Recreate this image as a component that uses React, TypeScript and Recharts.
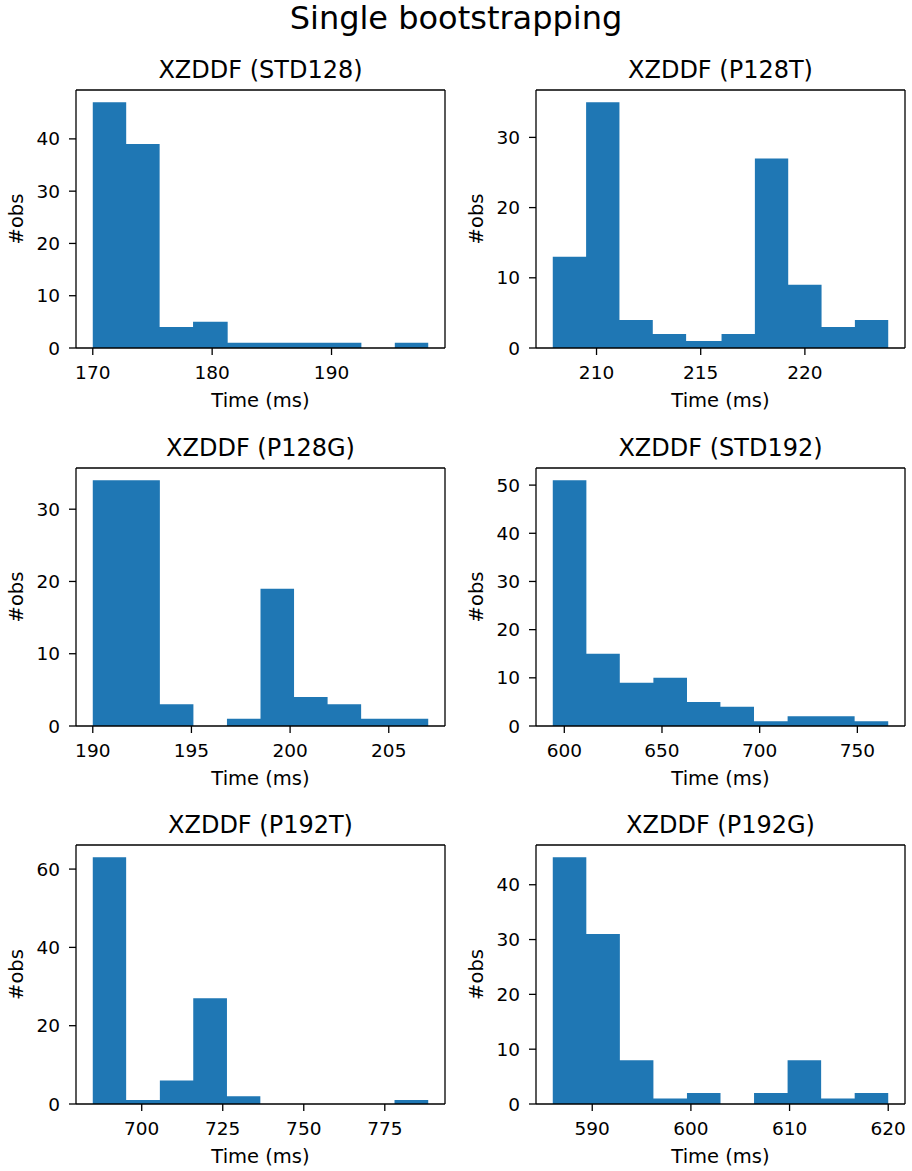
import React from 'react';
import { AreaChart, Area, XAxis, YAxis, CartesianGrid } from 'recharts';

const FONT = '"DejaVu Sans", "Liberation Sans", sans-serif';
const BLUE = '#1f77b4';
const INK = '#000';

const suptitle = 'Single bootstrapping';
const titles = [
  'XZDDF (STD128)',
  'XZDDF (P128T)',
  'XZDDF (P128G)',
  'XZDDF (STD192)',
  'XZDDF (P192T)',
  'XZDDF (P192G)',
];

// bin edges (ms) and counts per bin
const std128Edges = [170.0, 172.8, 175.6, 178.4, 181.3, 184.1, 186.9, 189.7, 192.5, 195.3, 198.1];
const std128Counts = [47, 39, 4, 5, 1, 1, 1, 1, 0, 1];
const std128XTicks = [170, 180, 190];
const std128YTicks = [0, 10, 20, 30, 40];

const p128tEdges = [207.9, 209.5, 211.1, 212.7, 214.3, 216.0, 217.6, 219.2, 220.8, 222.4, 224.0];
const p128tCounts = [13, 35, 4, 2, 1, 2, 27, 9, 3, 4];
const p128tXTicks = [210, 215, 220];
const p128tYTicks = [0, 10, 20, 30];

const p128gEdges = [190.0, 191.7, 193.4, 195.1, 196.8, 198.5, 200.2, 201.9, 203.6, 205.3, 207.0];
const p128gCounts = [34, 34, 3, 0, 1, 19, 4, 3, 1, 1];
const p128gXTicks = [190, 195, 200, 205];
const p128gYTicks = [0, 10, 20, 30];

const std192Edges = [594.1, 611.3, 628.4, 645.6, 662.8, 679.9, 697.1, 714.3, 731.5, 748.6, 765.8];
const std192Counts = [51, 15, 9, 10, 5, 4, 1, 2, 2, 1];
const std192XTicks = [600, 650, 700, 750];
const std192YTicks = [0, 10, 20, 30, 40, 50];

const p192tEdges = [684.9, 695.2, 705.6, 715.9, 726.3, 736.6, 747.0, 757.3, 767.7, 778.0, 788.4];
const p192tCounts = [63, 1, 6, 27, 2, 0, 0, 0, 0, 1];
const p192tXTicks = [700, 725, 750, 775];
const p192tYTicks = [0, 20, 40, 60];

const p192gEdges = [586.0, 589.4, 592.8, 596.2, 599.6, 603.0, 606.4, 609.8, 613.2, 616.6, 620.0];
const p192gCounts = [45, 31, 8, 1, 2, 0, 2, 8, 1, 2];
const p192gXTicks = [590, 600, 610, 620];
const p192gYTicks = [0, 10, 20, 30, 40];

const panels = [
  { edges: std128Edges, counts: std128Counts, xTicks: std128XTicks, yTicks: std128YTicks },
  { edges: p128tEdges, counts: p128tCounts, xTicks: p128tXTicks, yTicks: p128tYTicks },
  { edges: p128gEdges, counts: p128gCounts, xTicks: p128gXTicks, yTicks: p128gYTicks },
  { edges: std192Edges, counts: std192Counts, xTicks: std192XTicks, yTicks: std192YTicks },
  { edges: p192tEdges, counts: p192tCounts, xTicks: p192tXTicks, yTicks: p192tYTicks },
  { edges: p192gEdges, counts: p192gCounts, xTicks: p192gXTicks, yTicks: p192gYTicks },
];

// layout (page pixels)
const PLOT_W = 369;
const colLeft = [0, 456];
const plotLeft = [76, 80];
const boxTop = [90, 468, 845];
const boxH = [258, 258, 259];
const yLabelOffset = [16.4, 19.8];

const line = { stroke: INK, strokeWidth: 1.3 };
const tickFont = { fontSize: 18.5, fill: INK, fontFamily: FONT };

// top and right spines of the axes box
const topSpine = ({ offset }: any) => [offset.top];
const rightSpine = ({ offset }: any) => [offset.left + offset.width];

function Hist({ index }: { index: number }) {
  const p = panels[index];
  const row = Math.floor(index / 2);
  const col = index % 2;
  const lo = p.edges[0];
  const hi = p.edges[p.edges.length - 1];
  const pad = (hi - lo) * 0.05;
  const xDom = [lo - pad, hi + pad];
  const yDom = [0, Math.max(...p.counts) * 1.05];
  // step area: one point per left edge, last edge repeats the last count
  const data = p.edges.map((x, i) => ({ x, n: p.counts[Math.min(i, p.counts.length - 1)] }));

  return (
    <div style={{ position: 'absolute', left: colLeft[col], top: boxTop[row] - 10 }}>
      <AreaChart
        width={456}
        height={10 + boxH[row] + 70}
        data={data}
        margin={{ top: 10, right: 456 - plotLeft[col] - PLOT_W, bottom: 0, left: 0 }}
      >
        <CartesianGrid
          stroke={INK}
          strokeWidth={1.3}
          horizontalCoordinatesGenerator={topSpine}
          verticalCoordinatesGenerator={rightSpine}
        />
        <XAxis
          dataKey="x"
          type="number"
          domain={xDom}
          ticks={p.xTicks}
          interval={0}
          allowDataOverflow
          height={70}
          tickSize={7}
          tickMargin={11}
          tick={tickFont}
          axisLine={line}
          tickLine={line}
          label={{
            value: 'Time (ms)',
            position: 'insideBottom',
            offset: 11.5,
            fontSize: 19.5,
            fill: INK,
            fontFamily: FONT,
          }}
        />
        <YAxis
          type="number"
          domain={yDom}
          ticks={p.yTicks}
          interval={0}
          allowDataOverflow
          width={plotLeft[col]}
          tickSize={7}
          tickMargin={9}
          tick={tickFont}
          axisLine={line}
          tickLine={line}
          label={{
            value: '#obs',
            angle: -90,
            position: 'insideLeft',
            offset: yLabelOffset[col],
            fontSize: 19.5,
            fill: INK,
            fontFamily: FONT,
            style: { textAnchor: 'middle' },
          }}
        />
        <Area
          dataKey="n"
          type="stepAfter"
          stroke="none"
          fill={BLUE}
          fillOpacity={1}
          dot={false}
          activeDot={false}
          isAnimationActive={false}
        />
      </AreaChart>
    </div>
  );
}

export default function App() {
  return (
    <div style={{ position: 'absolute', left: 0, top: 0, width: 912, height: 1171, background: '#fff' }}>
      {panels.map((_, i) => (
        <Hist key={i} index={i} />
      ))}
      <svg
        width={912}
        height={1171}
        style={{ position: 'absolute', left: 0, top: 0, pointerEvents: 'none' }}
      >
        <text x={456} y={29} textAnchor="middle" fontSize={32} fill={INK} fontFamily={FONT}>
          {suptitle}
        </text>
        {titles.map((t, i) => {
          const row = Math.floor(i / 2);
          const col = i % 2;
          return (
            <text
              key={t}
              x={colLeft[col] + plotLeft[col] + PLOT_W / 2}
              y={boxTop[row] - 12}
              textAnchor="middle"
              fontSize={24}
              fill={INK}
              fontFamily={FONT}
            >
              {t}
            </text>
          );
        })}
      </svg>
    </div>
  );
}
